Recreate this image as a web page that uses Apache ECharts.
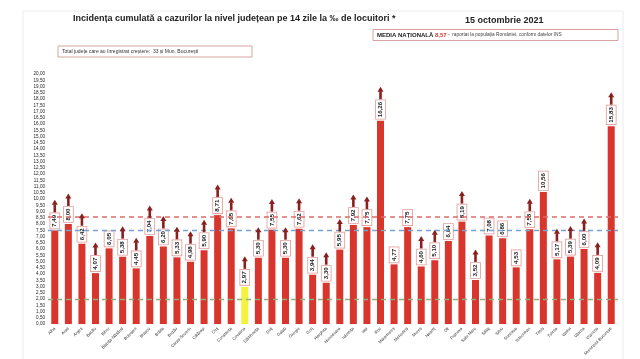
<!DOCTYPE html>
<html>
<head>
<meta charset="utf-8">
<script src="https://cdn.jsdelivr.net/npm/echarts@6/dist/echarts.min.js"></script>
<style>html,body{margin:0;padding:0;background:#fff;}#c{width:640px;height:359px;}</style>
</head>
<body>
<div id="c"></div>
<script>
const categories = ["Alba","Arad","Argeș","Bacău","Bihor","Bistrița-Năsăud","Botoșani","Brașov","Brăila","Buzău","Caraș-Severin","Călărași","Cluj","Constanța","Covasna","Dâmbovița","Dolj","Galați","Giurgiu","Gorj","Harghita","Hunedoara","Ialomița","Iași","Ilfov","Maramureș","Mehedinți","Mureș","Neamț","Olt","Prahova","Satu Mare","Sălaj","Sibiu","Suceava","Teleorman","Timiș","Tulcea","Vaslui","Vâlcea","Vrancea","Municipiul București"];
const values = [7.49,8.00,6.42,4.07,6.05,5.38,4.45,7.04,6.20,5.33,4.98,5.90,8.71,7.65,2.97,5.30,7.55,5.30,7.62,3.94,3.30,5.95,7.92,7.75,16.26,4.77,7.75,4.60,5.10,6.64,8.19,3.52,7.08,6.86,4.53,7.58,10.56,5.17,5.39,6.00,4.09,15.83];
const increased = [1,1,1,1,0,1,1,1,1,1,1,1,1,1,1,1,1,1,1,1,1,1,1,1,1,0,0,1,1,0,1,1,0,0,0,1,0,1,1,1,1,1];
const highlighted = ["Covasna"];
const nationalAverage = 8.57;
const blueThreshold = 7.5;
const greenThreshold = 2.0;
const yTickLabels = { min: 0, max: 20, step: 0.5 };
const titleText = "Incidența cumulată a cazurilor la nivel județean pe 14 zile la ‰ de locuitori *";
const dateText = "15 octombrie 2021";
const totalText = "Total județe care au înregistrat creștere:  33 și Mun. București";

const fmt = v => Number(v).toFixed(2).replace('.', ',');
const LABEL_FONT = 6.2, LABEL_PAD = 1.5, LABEL_DIST = 2;
const mctx = document.createElement('canvas').getContext('2d');
mctx.font = 'bold ' + LABEL_FONT + 'px "Liberation Sans"';

const chart = echarts.init(document.getElementById('c'), null, {renderer: 'canvas'});
chart.setOption({
  animation: false,
  backgroundColor: '#fff',
  grid: { left: 48, right: 22, top: 74, bottom: 35, containLabel: false },
  xAxis: {
    type: 'category', data: categories,
    axisLine: { show: false }, axisTick: { show: false },
    axisLabel: { interval: 0, rotate: 45, fontSize: 4.2, color: '#333', margin: 4, fontFamily: 'Liberation Sans' }
  },
  yAxis: {
    type: 'value', min: yTickLabels.min, max: yTickLabels.max, interval: yTickLabels.step,
    axisLine: { show: false }, axisTick: { show: false }, splitLine: { show: false },
    axisLabel: { fontSize: 4.6, color: '#222', margin: 3, fontFamily: 'Liberation Sans', formatter: v => fmt(v) }
  },
  graphic: [
    { type: 'rect', shape: { x: 23, y: 11, width: 600, height: 360 }, style: { fill: 'none', stroke: '#ececec', lineWidth: 1 }, z: -1 },
    { type: 'text', x: 73, y: 19, style: { text: titleText, font: 'bold 9px "Liberation Sans Narrow", "Liberation Sans"', fill: '#222', verticalAlign: 'middle' } },
    { type: 'text', x: 465, y: 21, style: { text: dateText, font: 'bold 9px "Liberation Sans Narrow", "Liberation Sans"', fill: '#222', verticalAlign: 'middle' } },
    { type: 'rect', shape: { x: 373, y: 29.5, width: 245, height: 11 }, style: { fill: '#fff', stroke: '#d9a3a3', lineWidth: 1 } },
    { type: 'text', x: 377, y: 35, style: {
        text: '{a|MEDIA NAȚIONALĂ }{b|' + fmt(nationalAverage) + '}{c| -  raportat la populația României, conform datelor INS}',
        verticalAlign: 'middle',
        rich: {
          a: { font: 'bold 6px "Liberation Sans"', fill: '#222' },
          b: { font: 'bold 6px "Liberation Sans"', fill: '#d23a32' },
          c: { font: '4.8px "Liberation Sans"', fill: '#444' }
        } } },
    { type: 'rect', shape: { x: 58, y: 46, width: 194, height: 11 }, style: { fill: '#fff', stroke: '#d9a3a3', lineWidth: 1 } },
    { type: 'text', x: 62, y: 51.5, style: { text: totalText, font: '5px "Liberation Sans"', fill: '#333', verticalAlign: 'middle' } }
  ],
  series: [
    {
      type: 'bar', barWidth: 7,
      data: values.map((v, i) => ({ value: v, itemStyle: { color: highlighted.includes(categories[i]) ? '#f3f23e' : '#d8352c' } })),
      label: {
        show: true, position: 'top', distance: LABEL_DIST, rotate: 90, align: 'left', verticalAlign: 'middle',
        formatter: p => fmt(p.value), fontSize: LABEL_FONT, fontWeight: 'bold', fontFamily: 'Liberation Sans', color: '#222',
        backgroundColor: '#fff', borderColor: '#e29a9a', borderWidth: 0.8, padding: [LABEL_PAD, LABEL_PAD]
      },
      markLine: {
        silent: true, symbol: 'none', label: { show: false }, z: 5,
        data: [
          { yAxis: nationalAverage, lineStyle: { color: '#de6c68', type: [5, 4], width: 1.6 } },
          { yAxis: blueThreshold, lineStyle: { color: '#74a3d2', type: [5, 4], width: 1.4 } },
          { yAxis: greenThreshold, lineStyle: { color: '#8fae7c', type: [5, 4], width: 1.4 } }
        ]
      }
    },
    {
      type: 'custom', z: 6,
      data: values.map((v, i) => increased[i] ? [i, v] : [i, '-']),
      renderItem: (params, api) => {
        const v = api.value(1);
        if (isNaN(v)) return null;
        const p = api.coord([api.value(0), v]);
        const w = mctx.measureText(fmt(v)).width;
        const top = p[1] - LABEL_DIST - w - 2 * LABEL_PAD - 1;
        const x = p[0];
        return { type: 'group', children: [
          { type: 'rect', shape: { x: x - 1.3, y: top - 8, width: 2.6, height: 8 }, style: { fill: '#8a1f1f' } },
          { type: 'polygon', shape: { points: [[x - 3, top - 7.5], [x + 3, top - 7.5], [x, top - 12.5]] }, style: { fill: '#8a1f1f' } }
        ] };
      }
    }
  ]
});
</script>
</body>
</html>
